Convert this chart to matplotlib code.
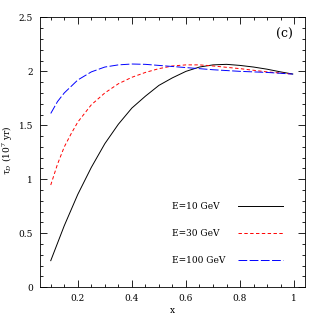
import matplotlib
matplotlib.use("Agg")
import matplotlib.pyplot as plt
from matplotlib.ticker import MultipleLocator

x10 = [0.10, 0.15, 0.20, 0.25, 0.30, 0.35, 0.40, 0.45, 0.50, 0.55, 0.60, 0.65, 0.70, 0.75, 0.80, 0.85, 0.90, 0.95, 0.995]
y10 = [0.246, 0.57, 0.86, 1.11, 1.33, 1.51, 1.66, 1.77, 1.87, 1.94, 2.00, 2.04, 2.06, 2.065, 2.055, 2.04, 2.02, 1.995, 1.975]

x30 = [0.10, 0.125, 0.15, 0.175, 0.20, 0.25, 0.30, 0.35, 0.40, 0.45, 0.50, 0.55, 0.60, 0.65, 0.70, 0.80, 0.90, 0.995]
y30 = [0.947, 1.14, 1.30, 1.42, 1.53, 1.69, 1.80, 1.885, 1.945, 1.99, 2.025, 2.05, 2.06, 2.06, 2.05, 2.025, 1.995, 1.975]

x100 = [0.10, 0.125, 0.15, 0.175, 0.20, 0.25, 0.30, 0.35, 0.40, 0.45, 0.50, 0.60, 0.70, 0.80, 0.90, 0.995]
y100 = [1.61, 1.72, 1.80, 1.86, 1.92, 1.995, 2.04, 2.06, 2.068, 2.065, 2.055, 2.035, 2.015, 2.00, 1.99, 1.975]

labels = ["E=10 GeV", "E=30 GeV", "E=100 GeV"]

plt.rcParams['font.family'] = ['DejaVu Serif']
plt.rcParams['mathtext.fontset'] = 'dejavuserif'
fig = plt.figure(figsize=(3.22, 3.22), dpi=100)
ax = fig.add_axes([0.124, 0.108, 0.823, 0.838])

lw = 0.7
styles = [
    dict(color='black', lw=lw, ls='-'),
    dict(color='red', lw=lw, ls=(0, (3.5, 2.5))),
    dict(color='blue', lw=lw, ls=(0, (9, 2.5))),
]
ax.plot(x10, y10, **styles[0])
ax.plot(x30, y30, **styles[1])
ax.plot(x100, y100, **styles[2])

ax.set_xlim(0.06, 1.04)
ax.set_ylim(0, 2.5)
ax.xaxis.set_minor_locator(MultipleLocator(0.05))
ax.yaxis.set_minor_locator(MultipleLocator(0.1))
ax.tick_params(which='both', direction='in', top=True, right=True, labelsize=6.5, width=0.6)
ax.tick_params(which='major', length=5, pad=5)
ax.tick_params(which='minor', length=2.5)
ax.set_xticks([0.2, 0.4, 0.6, 0.8, 1.0])
ax.set_xticklabels(['0.2', '0.4', '0.6', '0.8', '1'])
ax.set_yticks([0, 0.5, 1, 1.5, 2, 2.5])
ax.set_yticklabels(['0', '0.5', '1', '1.5', '2', '2.5'])
for s in ax.spines.values():
    s.set_linewidth(0.6)

ax.set_xlabel('x', fontsize=6.5, labelpad=2)
fig.text(8 / 322, 1 - 150 / 322, r'$\tau_D$ (10$^7$ yr)', fontsize=6.5,
         rotation=90, ha='center', va='center')

ypos = [0.75, 0.5, 0.25]
for st, lab, yy in zip(styles, labels, ypos):
    ax.text(0.548, yy, lab, fontsize=6.5, va='center', ha='left')
    ax.plot([0.794, 0.96], [yy, yy], **st)

ax.text(0.964, 2.345, '(c)', fontsize=9, ha='center', va='center')

fig.savefig('out.png', dpi=100)
